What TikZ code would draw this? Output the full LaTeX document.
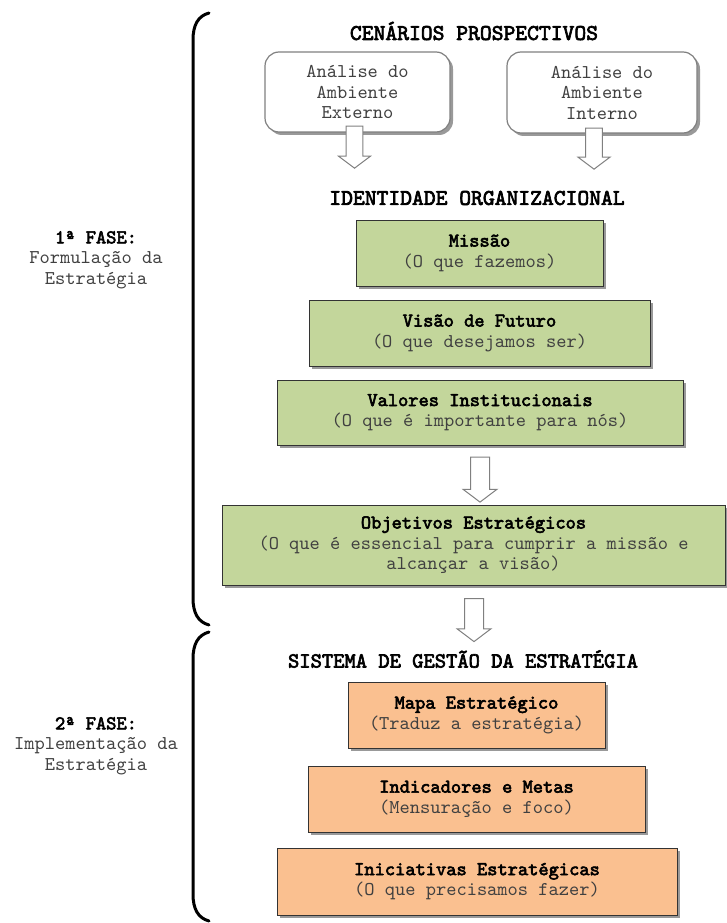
\documentclass[tikz,border=0pt]{standalone}
\usepackage{fontspec}
\usepackage{xcolor}
\usepackage{tikz}
\usetikzlibrary{shapes,arrows,positioning,calc,shadows}

\setmonofont{lmmono10-regular.otf}[BoldFont=lmmono10-regular.otf,BoldFeatures={FakeBold=3}]
\definecolor{verde}{HTML}{C3D69B}
\definecolor{laranja}{HTML}{FAC090}
\definecolor{texto}{HTML}{404040}
\newcommand{\corpo}{\ttfamily\fontsize{19.5}{20.5}\selectfont}
\newcommand{\cabeca}{\ttfamily\fontsize{22.5}{24}\selectfont\bfseries}
\newcommand{\tit}[1]{{\color{black}\bfseries #1}}

\begin{document}
\begin{tikzpicture}[x=1pt,y=-1pt,
    caixa/.style={draw=black!80,line width=0.8pt,align=center,inner sep=0pt,
        font=\corpo,text=texto,
        drop shadow={shadow xshift=3pt,shadow yshift=-3pt,fill=black!50,opacity=0.8}},
    ambiente/.style={caixa,draw=black!50,line width=1.2pt,fill=white,rounded corners=14pt},
    ident/.style={caixa,fill=verde},
    gestao/.style={caixa,fill=laranja},
    seta/.style={single arrow,draw=black!50,line width=1pt,fill=white,inner sep=7.5pt,
        minimum width=32pt,single arrow tip angle=106,rotate=-90},
    cabecalho/.style={font=\cabeca,text=black,inner sep=0pt},
    fase/.style={font=\corpo,text=texto,align=center,inner sep=0pt},
    chave/.style={line width=3pt,line cap=round}]
    \useasboundingbox (0,0) rectangle (727,923);

    % Cenarios prospectivos
    \node[cabecalho] (cenarios) at (474,31) {CENÁRIOS PROSPECTIVOS};
    \node[ambiente,minimum width=185pt,minimum height=80pt] (externo) at (357.5,92)
        {Análise do\\Ambiente\\Externo};
    \node[ambiente,minimum width=190pt,minimum height=81pt] (interno) at (602,92.5)
        {Análise do\\Ambiente\\Interno};
    \node[seta,minimum height=42pt] (setaext) at (354.5,144) {};
    \node[seta,minimum height=41pt] (setaint) at (594,145.5) {};

    % Identidade organizacional
    \node[cabecalho] (identidade) at (477,198) {IDENTIDADE ORGANIZACIONAL};
    \node[ident,minimum width=247pt,minimum height=66pt] (missao) at (479.5,253)
        {\tit{Missão}\\(O que fazemos)};
    \node[ident,minimum width=341pt,minimum height=66pt] (visao) at (479.5,333)
        {\tit{Visão de Futuro}\\(O que desejamos ser)};
    \node[ident,minimum width=406pt,minimum height=65pt] (valores) at (480,412.5)
        {\tit{Valores Institucionais}\\(O que é importante para nós)};
    \node[seta,minimum height=45pt,inner sep=8.5pt,minimum width=34pt] (setaval) at (480,476) {};
    \node[ident,minimum width=503pt,minimum height=80pt] (objetivos) at (473.5,545)
        {\tit{Objetivos Estratégicos}\\(O que é essencial para cumprir a missão e\\alcançar a visão)};
    \node[seta,minimum height=43pt,inner sep=8.5pt,minimum width=34pt] (setaobj) at (474,616.5) {};

    % Sistema de gestao
    \node[cabecalho,font=\ttfamily\fontsize{21.5}{24}\selectfont\bfseries] (sistema) at (463,659)
        {SISTEMA DE GESTÃO DA ESTRATÉGIA};
    \node[gestao,minimum width=257pt,minimum height=66pt] (mapa) at (476.5,715)
        {\tit{Mapa Estratégico}\\(Traduz a estratégia)};
    \node[gestao,minimum width=337pt,minimum height=66pt] (indicadores) at (476.5,799)
        {\tit{Indicadores e Metas}\\(Mensuração e foco)};
    \node[gestao,minimum width=400pt,minimum height=67pt] (iniciativas) at (477,881.5)
        {\tit{Iniciativas Estratégicas}\\(O que precisamos fazer)};

    % Fases
    \node[fase] (fase1) at (96,260) {\tit{1ª FASE:}\\Formulação da\\Estratégia};
    \node[fase] (fase2) at (96,746) {\tit{2ª FASE:}\\Implementação da\\Estratégia};
    \draw[chave] (209,13) .. controls (198,16) and (193,25) .. (193,40) -- (193,598)
        .. controls (193,613) and (198,622) .. (209,625);
    \draw[chave] (209,632) .. controls (198,635) and (193,644) .. (193,659) -- (193,894)
        .. controls (193,909) and (198,918) .. (209,921);
\end{tikzpicture}
\end{document}
